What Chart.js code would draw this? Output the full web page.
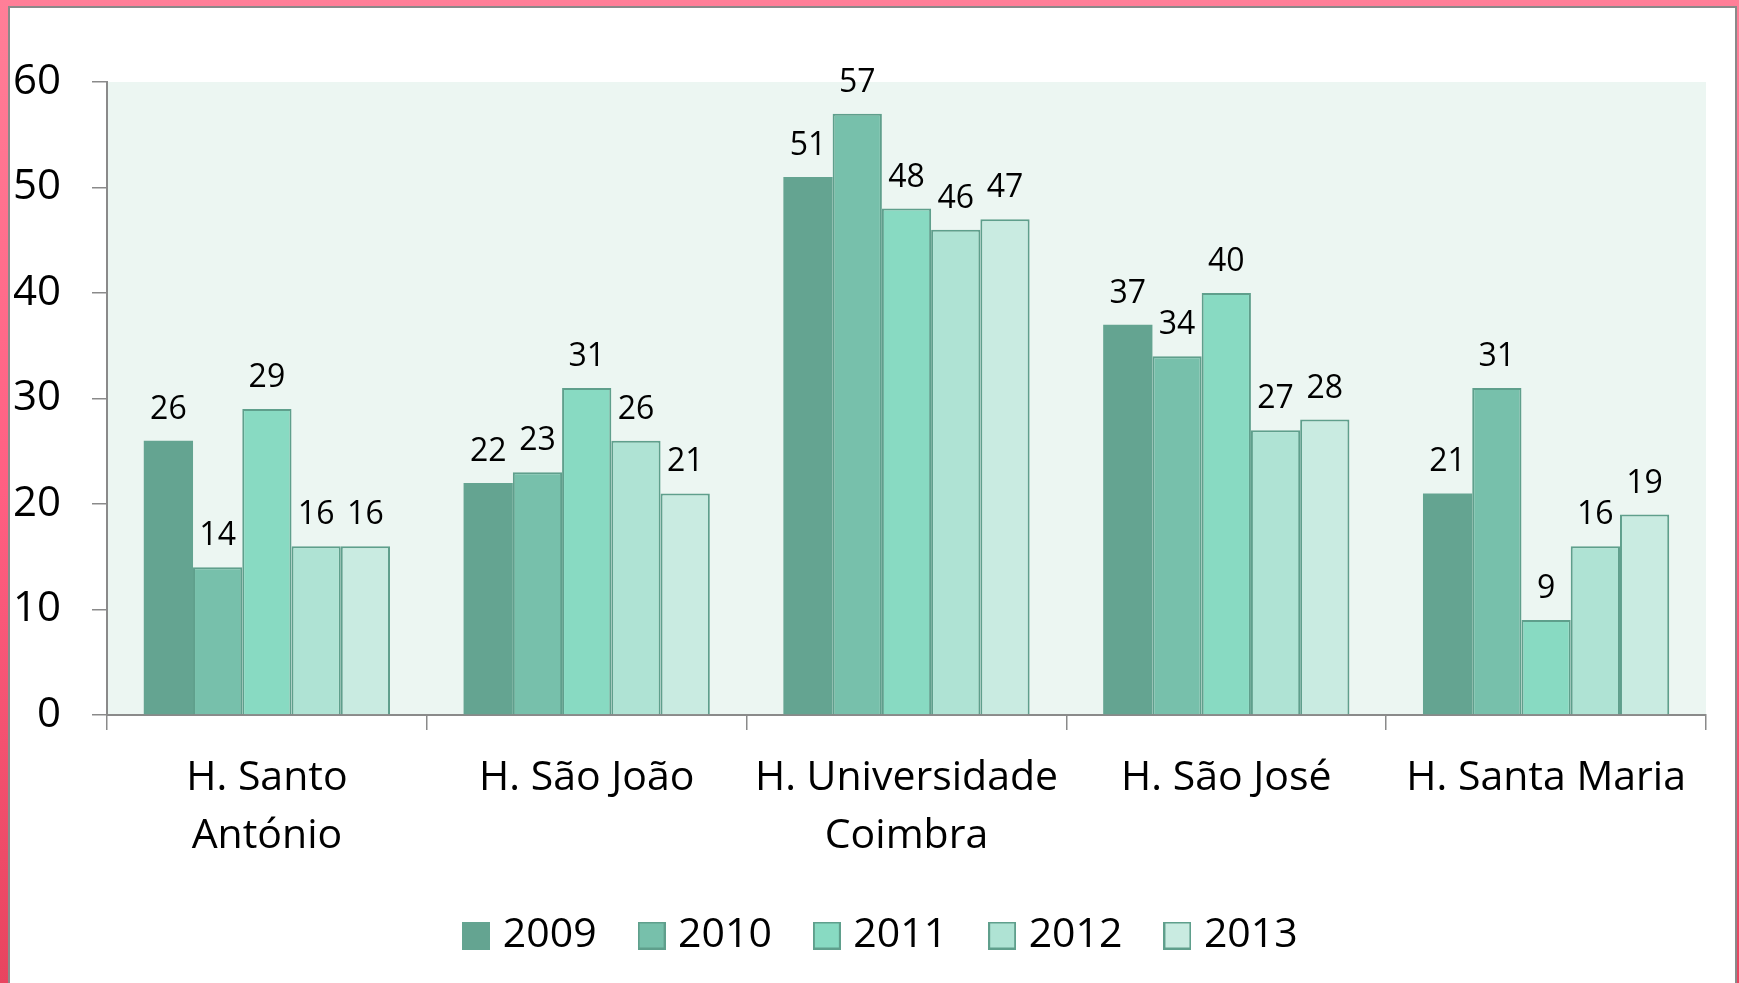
<!DOCTYPE html>
<html>
<head>
<meta charset="utf-8">
<script src="https://cdn.jsdelivr.net/npm/chart.js@4.4.1/dist/chart.umd.min.js"></script>
<style>
  html, body { margin: 0; padding: 0; }
  body {
    width: 1739px; height: 983px; overflow: hidden; position: relative;
    background: linear-gradient(to bottom, #ff7f98 0%, #ff5f82 50%, #e8445f 100%);
  }
  #frame {
    position: absolute; left: 8px; top: 6px; width: 1725px; height: 990px;
    background: #ffffff;
    border-left: 2px solid #8a8a8a; border-top: 2px solid #8a8a8a; border-right: 2px solid #8a8a8a;
  }
  #c { position: absolute; left: 0; top: 0; }
</style>
</head>
<body>
<div id="frame"></div>
<canvas id="c" width="1739" height="983"></canvas>
<script>
const categories = [["H. Santo", "António"], "H. São João", ["H. Universidade", "Coimbra"], "H. São José", "H. Santa Maria"];
const seriesNames = ["2009", "2010", "2011", "2012", "2013"];
const v2009 = [26, 22, 51, 37, 21];
const v2010 = [14, 23, 57, 34, 31];
const v2011 = [29, 31, 48, 40, 9];
const v2012 = [16, 26, 46, 27, 16];
const v2013 = [16, 21, 47, 28, 19];
const yTicks = [0, 10, 20, 30, 40, 50, 60];

const fills = ["#64a491", "#77c0ab", "#88dac2", "#afe3d4", "#c9ebe1"];
const edge = '#5f9f8c';
const seriesValues = [v2009, v2010, v2011, v2012, v2013];
const FONT = "'Open Sans', 'Noto Sans', sans-serif";

function makeIcon(fill, withBorder) {
  const c = document.createElement('canvas');
  c.width = 28; c.height = 28;
  const x = c.getContext('2d');
  x.fillStyle = fill;
  x.fillRect(0, 0, 28, 28);
  if (withBorder) {
    x.strokeStyle = edge;
    x.lineWidth = 2;
    x.strokeRect(1, 1, 26, 26);
  }
  return c;
}
const legendIcons = fills.map((f, i) => makeIcon(f, i > 0));

const bgPlugin = {
  id: 'plotBg',
  afterLayout(chart) {
    // shift legend centring to match the original composition
    if (chart.legend) chart.legend.left += 48;
  },
  beforeDraw(chart) {
    const a = chart.chartArea, ctx = chart.ctx;
    ctx.save();
    ctx.fillStyle = '#ecf6f2';
    ctx.fillRect(a.left, a.top, a.right - a.left, a.bottom - a.top);
    ctx.restore();
  }
};

const labelPlugin = {
  id: 'valueLabels',
  afterDatasetsDraw(chart) {
    const ctx = chart.ctx;
    ctx.save();
    ctx.font = "32px " + FONT;
    ctx.fillStyle = '#000';
    ctx.textAlign = 'center';
    ctx.textBaseline = 'alphabetic';
    chart.data.datasets.forEach((ds, i) => {
      chart.getDatasetMeta(i).data.forEach((el, j) => {
        ctx.fillText(String(ds.data[j]), el.x, el.y - 22);
      });
    });
    ctx.restore();
  }
};

new Chart(document.getElementById('c'), {
  type: 'bar',
  data: {
    labels: categories,
    datasets: seriesNames.map((n, i) => ({
      label: n,
      data: seriesValues[i],
      backgroundColor: fills[i],
      borderColor: edge,
      borderWidth: i === 0 ? 0 : 2,
      borderSkipped: 'bottom',
      barPercentage: 1.0,
      categoryPercentage: 0.77
    }))
  },
  options: {
    responsive: false,
    animation: false,
    layout: { padding: { left: 14, right: 33, top: 82, bottom: 17 } },
    plugins: {
      legend: {
        position: 'bottom',
        labels: {
          font: { family: FONT, size: 41 },
          color: '#000',
          usePointStyle: true,
          pointStyleWidth: 12,
          boxHeight: 28,
          padding: 49,
          generateLabels(chart) {
            const items = Chart.defaults.plugins.legend.labels.generateLabels(chart);
            items.forEach((it, i) => { it.pointStyle = legendIcons[i]; });
            return items;
          }
        }
      },
      tooltip: { enabled: false }
    },
    scales: {
      x: {
        afterFit(scale) { scale.height = 151; },
        grid: { drawOnChartArea: false, tickLength: 15, color: '#8a8a8a', lineWidth: 1.5, offset: true },
        border: { color: '#8a8a8a', width: 2 },
        ticks: { font: { family: FONT, size: 41, lineHeight: 1.42 }, color: '#000', padding: 19, maxRotation: 0, autoSkip: false }
      },
      y: {
        min: yTicks[0], max: yTicks[yTicks.length - 1],
        afterFit(scale) { scale.width = 93; },
        grid: { drawOnChartArea: false, tickLength: 15, color: '#8a8a8a', lineWidth: 1.5 },
        border: { color: '#8a8a8a', width: 2 },
        ticks: { stepSize: yTicks[1] - yTicks[0], font: { family: FONT, size: 42 }, color: '#000', padding: 31 }
      }
    }
  },
  plugins: [bgPlugin, labelPlugin]
});
</script>
</body>
</html>
